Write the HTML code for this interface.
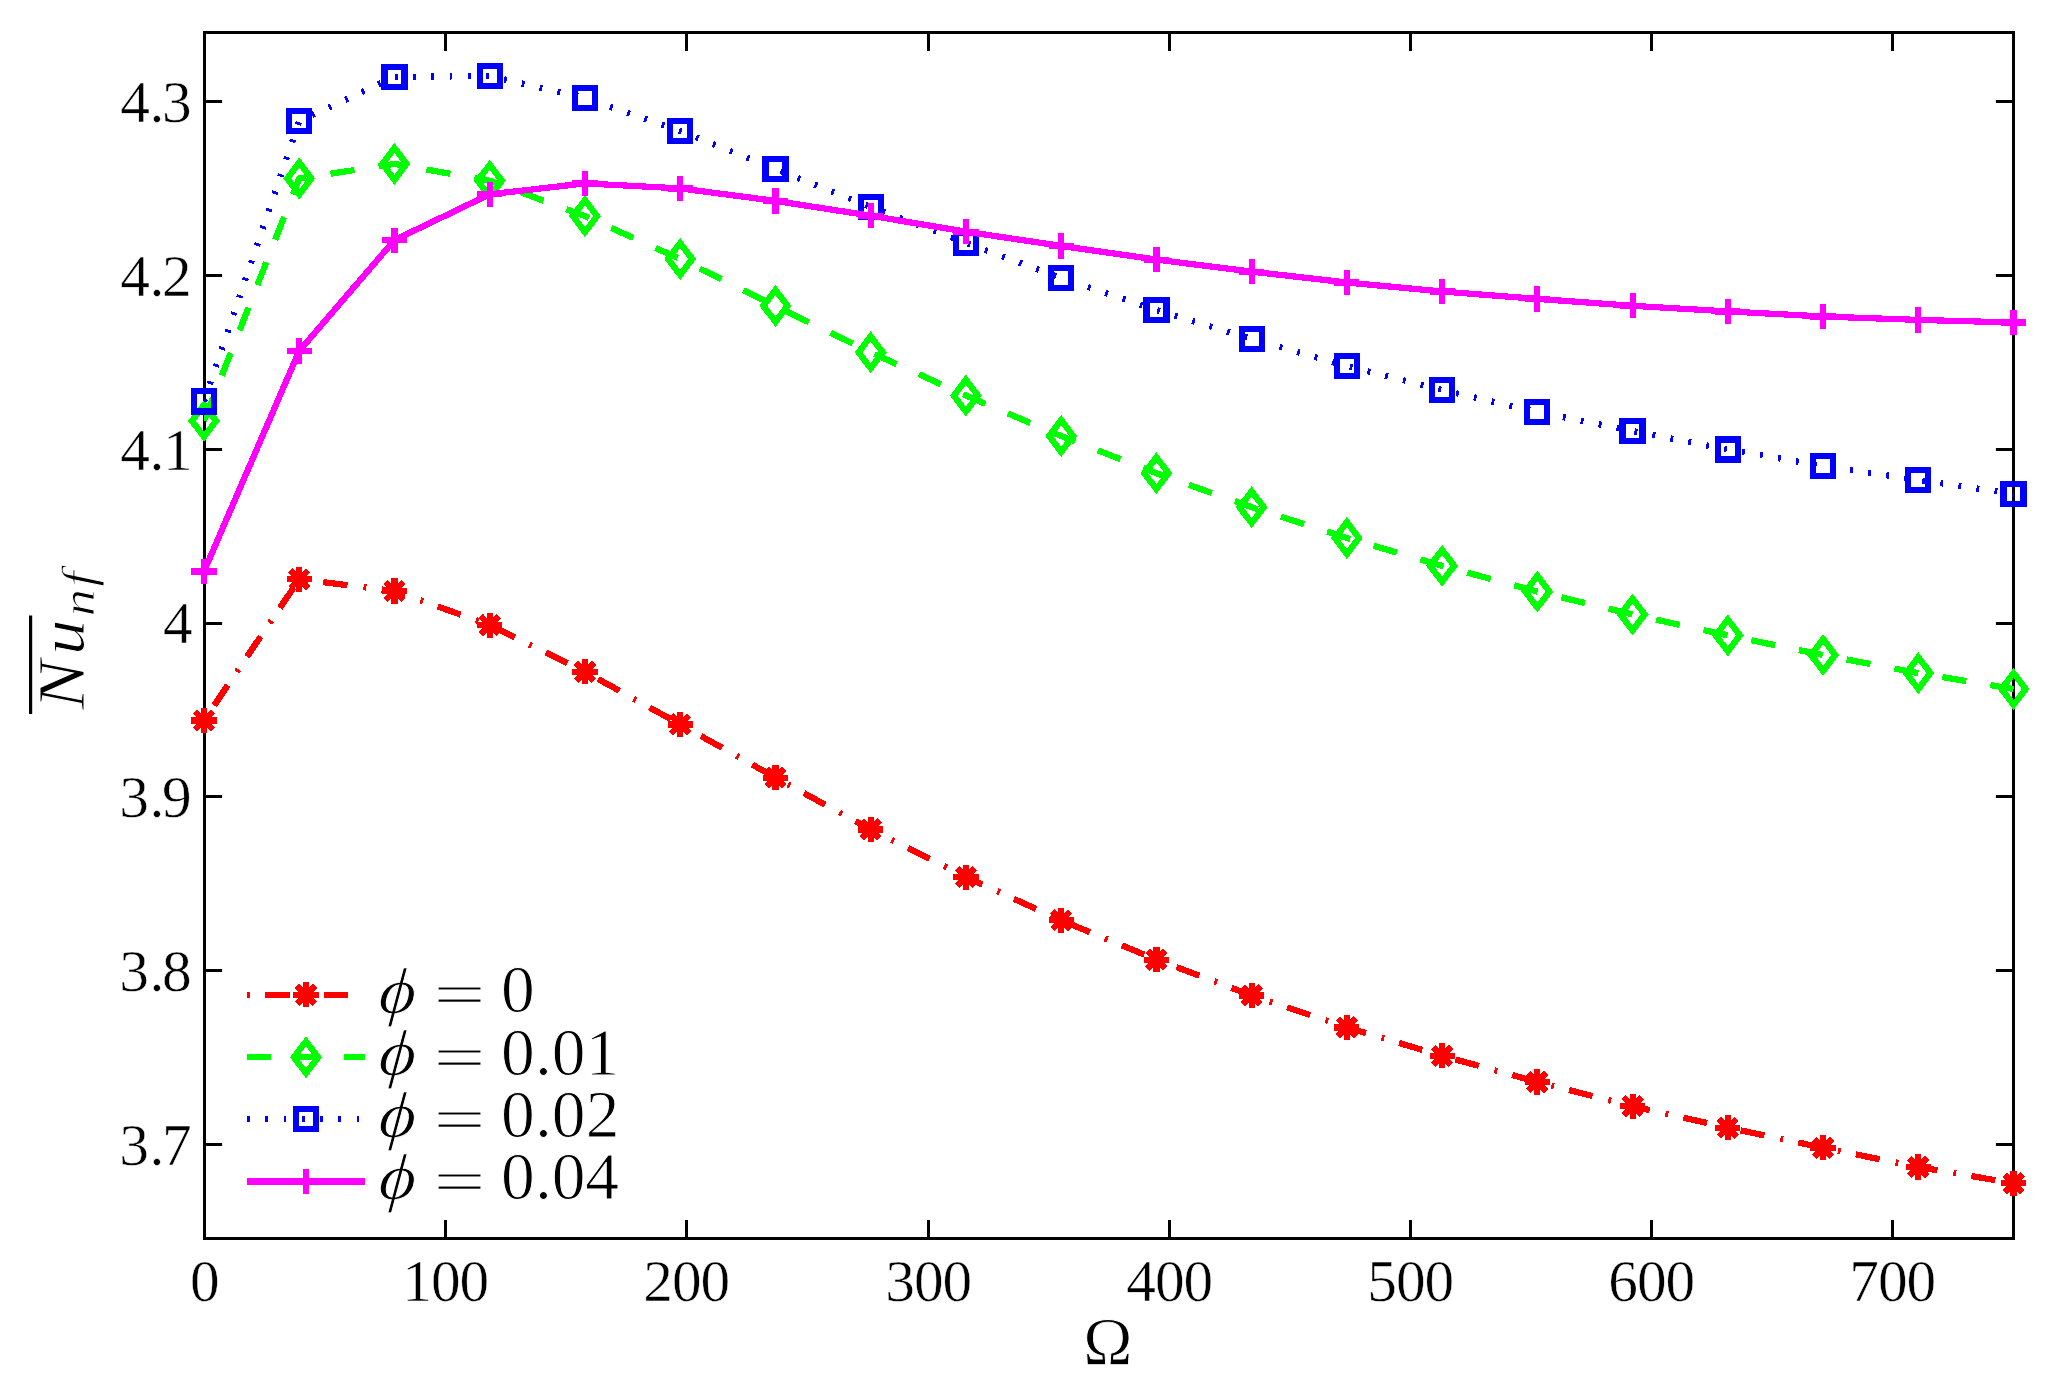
<!DOCTYPE html>
<html><head><meta charset="utf-8"><title>Nu vs Omega</title>
<style>html,body{margin:0;padding:0;background:#fff}svg{display:block}</style></head>
<body>
<svg width="2060" height="1397" viewBox="0 0 2060 1397">
<defs><clipPath id="box"><rect x="204" y="31" width="1811" height="1209"/></clipPath></defs>
<rect width="2060" height="1397" fill="#fff"/>
<rect x="204.5" y="32.5" width="1809.0" height="1206.0" fill="none" stroke="#000" stroke-width="3"/>
<path d="M204.5 101.5h17.6M2013.5 101.5h-17.6M204.5 275.5h17.6M2013.5 275.5h-17.6M204.5 449.5h17.6M2013.5 449.5h-17.6M204.5 623.5h17.6M2013.5 623.5h-17.6M204.5 796.5h17.6M2013.5 796.5h-17.6M204.5 970.5h17.6M2013.5 970.5h-17.6M204.5 1144.5h17.6M2013.5 1144.5h-17.6M445.50 1238.5v-18.4M445.50 32.5v18.4M686.50 1238.5v-18.4M686.50 32.5v18.4M928.50 1238.5v-18.4M928.50 32.5v18.4M1169.50 1238.5v-18.4M1169.50 32.5v18.4M1410.50 1238.5v-18.4M1410.50 32.5v18.4M1651.50 1238.5v-18.4M1651.50 32.5v18.4M1892.50 1238.5v-18.4M1892.50 32.5v18.4" stroke="#000" stroke-width="3" fill="none"/>
<g font-family="'Liberation Serif','DejaVu Serif',serif" font-size="59.3" fill="#000" stroke="#fff" stroke-width="0.5">
<text x="120.2 149.6 161.9" y="121.7">4.3</text><text x="120.2 149.6 161.9" y="295.7">4.2</text><text x="120.2 149.6 163.1" y="469.7">4.1</text><text x="163.0" y="642.8">4</text><text x="119.2 149.6 161.9" y="817.1">3.9</text><text x="119.2 149.6 161.9" y="991.1">3.8</text><text x="119.2 149.6 161.9" y="1164.9">3.7</text><text x="204.2" y="1300.8" text-anchor="middle" letter-spacing="-1.1">0</text><text x="445.2" y="1300.8" text-anchor="middle" letter-spacing="-1.1">100</text><text x="686.2" y="1300.8" text-anchor="middle" letter-spacing="-1.1">200</text><text x="928.2" y="1300.8" text-anchor="middle" letter-spacing="-1.1">300</text><text x="1169.2" y="1300.8" text-anchor="middle" letter-spacing="-1.1">400</text><text x="1410.2" y="1300.8" text-anchor="middle" letter-spacing="-1.1">500</text><text x="1651.2" y="1300.8" text-anchor="middle" letter-spacing="-1.1">600</text><text x="1892.2" y="1300.8" text-anchor="middle" letter-spacing="-1.1">700</text>
</g>
<text transform="translate(1107.9,1363.7) scale(0.966,1)" text-anchor="middle" font-family="'Liberation Serif','DejaVu Serif',serif" font-size="68.6" fill="#000" stroke="#fff" stroke-width="0.9">Ω</text>
<g transform="translate(84,711) rotate(-90)" font-family="'Liberation Serif','DejaVu Serif',serif" font-style="italic" fill="#000" stroke="#fff" stroke-width="0.9"><text transform="scale(1.12,1)" font-size="66.7" x="1.16 49.95" y="0">N<tspan font-size="63.5">u</tspan></text><text transform="translate(0,10.4) scale(1.2,1)" font-size="46" x="78.75 103.6" y="0">nf</text></g>
<rect x="29" y="615.5" width="3.2" height="98.5" fill="#000"/>
<g stroke="#00ff00" fill="none" stroke-width="6.2" stroke-miterlimit="10" shape-rendering="crispEdges">
<polyline clip-path="url(#box)" points="204.00,420.90 299.24,178.50 394.48,163.90 489.72,180.70 584.96,216.10 680.20,259.00 775.44,305.90 870.68,352.30 965.92,395.60 1061.16,436.00 1156.40,473.20 1251.64,507.20 1346.88,538.00 1442.12,565.80 1537.36,591.60 1632.60,614.50 1727.84,635.40 1823.08,655.00 1918.32,673.10 2013.56,689.00" stroke-dasharray="24.33 24.33"/>
<path d="M191.90 420.90L204.00 405.00L216.10 420.90L204.00 436.80Z"/><path d="M287.14 178.50L299.24 162.60L311.34 178.50L299.24 194.40Z"/><path d="M382.38 163.90L394.48 148.00L406.58 163.90L394.48 179.80Z"/><path d="M477.62 180.70L489.72 164.80L501.82 180.70L489.72 196.60Z"/><path d="M572.86 216.10L584.96 200.20L597.06 216.10L584.96 232.00Z"/><path d="M668.10 259.00L680.20 243.10L692.30 259.00L680.20 274.90Z"/><path d="M763.34 305.90L775.44 290.00L787.54 305.90L775.44 321.80Z"/><path d="M858.58 352.30L870.68 336.40L882.78 352.30L870.68 368.20Z"/><path d="M953.82 395.60L965.92 379.70L978.02 395.60L965.92 411.50Z"/><path d="M1049.06 436.00L1061.16 420.10L1073.26 436.00L1061.16 451.90Z"/><path d="M1144.30 473.20L1156.40 457.30L1168.50 473.20L1156.40 489.10Z"/><path d="M1239.54 507.20L1251.64 491.30L1263.74 507.20L1251.64 523.10Z"/><path d="M1334.78 538.00L1346.88 522.10L1358.98 538.00L1346.88 553.90Z"/><path d="M1430.02 565.80L1442.12 549.90L1454.22 565.80L1442.12 581.70Z"/><path d="M1525.26 591.60L1537.36 575.70L1549.46 591.60L1537.36 607.50Z"/><path d="M1620.50 614.50L1632.60 598.60L1644.70 614.50L1632.60 630.40Z"/><path d="M1715.74 635.40L1727.84 619.50L1739.94 635.40L1727.84 651.30Z"/><path d="M1810.98 655.00L1823.08 639.10L1835.18 655.00L1823.08 670.90Z"/><path d="M1906.22 673.10L1918.32 657.20L1930.42 673.10L1918.32 689.00Z"/><path d="M2001.46 689.00L2013.56 673.10L2025.66 689.00L2013.56 704.90Z"/>
</g>
<g stroke="#0000ff" fill="none" stroke-width="6.2" stroke-miterlimit="10" shape-rendering="crispEdges">
<polyline clip-path="url(#box)" points="204.00,401.40 299.24,121.00 394.48,77.00 489.72,76.00 584.96,98.10 680.20,131.00 775.44,169.00 870.68,207.00 965.92,243.00 1061.16,278.00 1156.40,310.00 1251.64,339.00 1346.88,366.10 1442.12,389.90 1537.36,412.00 1632.60,431.00 1727.84,449.50 1823.08,466.00 1918.32,480.00 2013.56,493.80" stroke-dasharray="2.8 15.45"/>
<rect x="194.00" y="391.40" width="20.0" height="20.0"/><rect x="289.24" y="111.00" width="20.0" height="20.0"/><rect x="384.48" y="67.00" width="20.0" height="20.0"/><rect x="479.72" y="66.00" width="20.0" height="20.0"/><rect x="574.96" y="88.10" width="20.0" height="20.0"/><rect x="670.20" y="121.00" width="20.0" height="20.0"/><rect x="765.44" y="159.00" width="20.0" height="20.0"/><rect x="860.68" y="197.00" width="20.0" height="20.0"/><rect x="955.92" y="233.00" width="20.0" height="20.0"/><rect x="1051.16" y="268.00" width="20.0" height="20.0"/><rect x="1146.40" y="300.00" width="20.0" height="20.0"/><rect x="1241.64" y="329.00" width="20.0" height="20.0"/><rect x="1336.88" y="356.10" width="20.0" height="20.0"/><rect x="1432.12" y="379.90" width="20.0" height="20.0"/><rect x="1527.36" y="402.00" width="20.0" height="20.0"/><rect x="1622.60" y="421.00" width="20.0" height="20.0"/><rect x="1717.84" y="439.50" width="20.0" height="20.0"/><rect x="1813.08" y="456.00" width="20.0" height="20.0"/><rect x="1908.32" y="470.00" width="20.0" height="20.0"/><rect x="2003.56" y="483.80" width="20.0" height="20.0"/>
</g>
<g stroke="#ff0000" fill="none" stroke-width="6.2" stroke-miterlimit="10" shape-rendering="crispEdges">
<polyline clip-path="url(#box)" points="204.00,720.50 299.24,579.20 394.48,591.00 489.72,625.10 584.96,671.70 680.20,724.40 775.44,777.60 870.68,829.50 965.92,877.10 1061.16,920.30 1156.40,959.60 1251.64,995.40 1346.88,1027.40 1442.12,1055.80 1537.36,1082.00 1632.60,1106.20 1727.84,1127.70 1823.08,1147.80 1918.32,1167.00 2013.56,1183.30" stroke-dasharray="2.8 15.45 24.33 16.22"/>
<path d="M191.40 720.50H216.60M204.00 707.90V733.10M195.09 711.59L212.91 729.41M195.09 729.41L212.91 711.59"/><path d="M286.64 579.20H311.84M299.24 566.60V591.80M290.33 570.29L308.15 588.11M290.33 588.11L308.15 570.29"/><path d="M381.88 591.00H407.08M394.48 578.40V603.60M385.57 582.09L403.39 599.91M385.57 599.91L403.39 582.09"/><path d="M477.12 625.10H502.32M489.72 612.50V637.70M480.81 616.19L498.63 634.01M480.81 634.01L498.63 616.19"/><path d="M572.36 671.70H597.56M584.96 659.10V684.30M576.05 662.79L593.87 680.61M576.05 680.61L593.87 662.79"/><path d="M667.60 724.40H692.80M680.20 711.80V737.00M671.29 715.49L689.11 733.31M671.29 733.31L689.11 715.49"/><path d="M762.84 777.60H788.04M775.44 765.00V790.20M766.53 768.69L784.35 786.51M766.53 786.51L784.35 768.69"/><path d="M858.08 829.50H883.28M870.68 816.90V842.10M861.77 820.59L879.59 838.41M861.77 838.41L879.59 820.59"/><path d="M953.32 877.10H978.52M965.92 864.50V889.70M957.01 868.19L974.83 886.01M957.01 886.01L974.83 868.19"/><path d="M1048.56 920.30H1073.76M1061.16 907.70V932.90M1052.25 911.39L1070.07 929.21M1052.25 929.21L1070.07 911.39"/><path d="M1143.80 959.60H1169.00M1156.40 947.00V972.20M1147.49 950.69L1165.31 968.51M1147.49 968.51L1165.31 950.69"/><path d="M1239.04 995.40H1264.24M1251.64 982.80V1008.00M1242.73 986.49L1260.55 1004.31M1242.73 1004.31L1260.55 986.49"/><path d="M1334.28 1027.40H1359.48M1346.88 1014.80V1040.00M1337.97 1018.49L1355.79 1036.31M1337.97 1036.31L1355.79 1018.49"/><path d="M1429.52 1055.80H1454.72M1442.12 1043.20V1068.40M1433.21 1046.89L1451.03 1064.71M1433.21 1064.71L1451.03 1046.89"/><path d="M1524.76 1082.00H1549.96M1537.36 1069.40V1094.60M1528.45 1073.09L1546.27 1090.91M1528.45 1090.91L1546.27 1073.09"/><path d="M1620.00 1106.20H1645.20M1632.60 1093.60V1118.80M1623.69 1097.29L1641.51 1115.11M1623.69 1115.11L1641.51 1097.29"/><path d="M1715.24 1127.70H1740.44M1727.84 1115.10V1140.30M1718.93 1118.79L1736.75 1136.61M1718.93 1136.61L1736.75 1118.79"/><path d="M1810.48 1147.80H1835.68M1823.08 1135.20V1160.40M1814.17 1138.89L1831.99 1156.71M1814.17 1156.71L1831.99 1138.89"/><path d="M1905.72 1167.00H1930.92M1918.32 1154.40V1179.60M1909.41 1158.09L1927.23 1175.91M1909.41 1175.91L1927.23 1158.09"/><path d="M2000.96 1183.30H2026.16M2013.56 1170.70V1195.90M2004.65 1174.39L2022.47 1192.21M2004.65 1192.21L2022.47 1174.39"/>
</g>
<g stroke="#ff00ff" fill="none" stroke-width="6.2" stroke-miterlimit="10" shape-rendering="crispEdges">
<polyline clip-path="url(#box)" points="204.00,571.40 299.24,350.90 394.48,240.10 489.72,194.30 584.96,183.40 680.20,188.40 775.44,200.90 870.68,215.70 965.92,231.70 1061.16,245.90 1156.40,259.60 1251.64,271.60 1346.88,282.50 1442.12,291.50 1537.36,298.90 1632.60,305.80 1727.84,311.40 1823.08,316.50 1918.32,319.90 2013.56,322.50"/>
<path d="M191.40 571.40H216.60M204.00 558.80V584.00"/><path d="M286.64 350.90H311.84M299.24 338.30V363.50"/><path d="M381.88 240.10H407.08M394.48 227.50V252.70"/><path d="M477.12 194.30H502.32M489.72 181.70V206.90"/><path d="M572.36 183.40H597.56M584.96 170.80V196.00"/><path d="M667.60 188.40H692.80M680.20 175.80V201.00"/><path d="M762.84 200.90H788.04M775.44 188.30V213.50"/><path d="M858.08 215.70H883.28M870.68 203.10V228.30"/><path d="M953.32 231.70H978.52M965.92 219.10V244.30"/><path d="M1048.56 245.90H1073.76M1061.16 233.30V258.50"/><path d="M1143.80 259.60H1169.00M1156.40 247.00V272.20"/><path d="M1239.04 271.60H1264.24M1251.64 259.00V284.20"/><path d="M1334.28 282.50H1359.48M1346.88 269.90V295.10"/><path d="M1429.52 291.50H1454.72M1442.12 278.90V304.10"/><path d="M1524.76 298.90H1549.96M1537.36 286.30V311.50"/><path d="M1620.00 305.80H1645.20M1632.60 293.20V318.40"/><path d="M1715.24 311.40H1740.44M1727.84 298.80V324.00"/><path d="M1810.48 316.50H1835.68M1823.08 303.90V329.10"/><path d="M1905.72 319.90H1930.92M1918.32 307.30V332.50"/><path d="M2000.96 322.50H2026.16M2013.56 309.90V335.10"/>
</g>
<g stroke="#ff0000" fill="none" stroke-width="6.2" stroke-miterlimit="10" shape-rendering="crispEdges"><path d="M247 994.8H363.5" stroke-dasharray="2.8 15.45 24.33 16.22"/><path d="M293.40 994.80H318.60M306.00 982.20V1007.40M297.09 985.89L314.91 1003.71M297.09 1003.71L314.91 985.89"/></g>
<g fill="#000" stroke="#fff" stroke-width="0.9" font-family="'Liberation Serif','DejaVu Serif',serif"><text transform="translate(377.8,1012.65) skewX(-4.1) scale(1.1,1)" font-size="65" font-style="italic">ϕ</text><text transform="translate(433.3,1015.00) scale(1.5,1)" font-size="62">=</text><text y="1012.10" font-size="67.5" x="501.0">0</text></g>
<g stroke="#00ff00" fill="none" stroke-width="6.2" stroke-miterlimit="10" shape-rendering="crispEdges"><path d="M247 1057.3H365.2" stroke-dasharray="24.33 24.33"/><path d="M293.90 1057.30L306.00 1041.40L318.10 1057.30L306.00 1073.20Z"/></g>
<g fill="#000" stroke="#fff" stroke-width="0.9" font-family="'Liberation Serif','DejaVu Serif',serif"><text transform="translate(377.8,1075.15) skewX(-4.1) scale(1.1,1)" font-size="65" font-style="italic">ϕ</text><text transform="translate(433.3,1077.50) scale(1.5,1)" font-size="62">=</text><text y="1074.60" font-size="67.5" x="501.0 535.1 551.65 585.4">0.01</text></g>
<g stroke="#0000ff" fill="none" stroke-width="6.2" stroke-miterlimit="10" shape-rendering="crispEdges"><path d="M247 1119.3H365.2" stroke-dasharray="2.8 15.45"/><rect x="296.00" y="1109.30" width="20.0" height="20.0"/></g>
<g fill="#000" stroke="#fff" stroke-width="0.9" font-family="'Liberation Serif','DejaVu Serif',serif"><text transform="translate(377.8,1137.15) skewX(-4.1) scale(1.1,1)" font-size="65" font-style="italic">ϕ</text><text transform="translate(433.3,1139.50) scale(1.5,1)" font-size="62">=</text><text y="1136.60" font-size="67.5" x="501.0 535.1 551.65 585.7">0.02</text></g>
<g stroke="#ff00ff" fill="none" stroke-width="6.2" stroke-miterlimit="10" shape-rendering="crispEdges"><path d="M247 1181.5H365.2"/><path d="M293.40 1181.50H318.60M306.00 1168.90V1194.10"/></g>
<g fill="#000" stroke="#fff" stroke-width="0.9" font-family="'Liberation Serif','DejaVu Serif',serif"><text transform="translate(377.8,1199.35) skewX(-4.1) scale(1.1,1)" font-size="65" font-style="italic">ϕ</text><text transform="translate(433.3,1201.70) scale(1.5,1)" font-size="62">=</text><text y="1198.80" font-size="67.5" x="501.0 535.1 551.65 585.2">0.04</text></g>
</svg>
</body></html>
